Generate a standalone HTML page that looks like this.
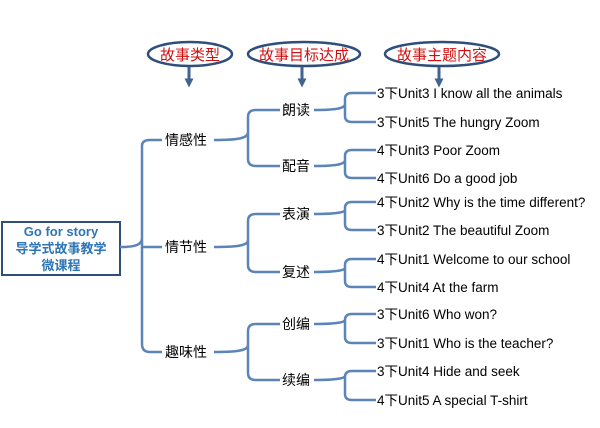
<!DOCTYPE html>
<html><head><meta charset="utf-8"><style>
body{margin:0;background:#fff;width:600px;height:423px;overflow:hidden}
text{font-family:"Liberation Sans","Noto Sans CJK SC",sans-serif}
</style></head><body>
<svg width="600" height="423" viewBox="0 0 600 423" xmlns="http://www.w3.org/2000/svg">
<defs><marker id="a" markerWidth="3" markerHeight="3" refX="1.5" refY="1.5" orient="auto"><path d="M0,0L3,1.5L0,3z" fill="#41638f"/></marker></defs>
<g fill="none" stroke="#2f4f7a" stroke-width="2.5">
<ellipse cx="190" cy="54" rx="42" ry="12"/>
<ellipse cx="304" cy="54" rx="56" ry="12"/>
<ellipse cx="442" cy="54" rx="57" ry="12"/>
</g>
<g stroke="#41638f" stroke-width="3" marker-end="url(#a)">
<line x1="189" y1="67" x2="189" y2="83"/>
<line x1="302" y1="67" x2="302" y2="83"/>
<line x1="439" y1="67" x2="439" y2="83"/>
</g>
<g font-size="15" fill="#d01010" text-anchor="middle">
<text x="190" y="60">故事类型</text><text x="304" y="60">故事目标达成</text><text x="442" y="60">故事主题内容</text>
</g>
<rect x="2" y="222" width="118" height="53" fill="#fff" stroke="#2f4f7a" stroke-width="2"/>
<g font-size="13" font-weight="bold" fill="#2e75b6" text-anchor="middle">
<text x="61" y="236" font-family="Liberation Mono,monospace">Go for story</text>
<text x="61" y="253">导学式故事教学</text><text x="61" y="270">微课程</text>
</g>
<g fill="none" stroke="#5b84b8" stroke-width="2.5">
<path d="M120,247 C135,247 142,245 142,238 L142,146 Q142,140 150,140 L162,140 M142,238 L142,344 Q142,352 150,352 L162,352 M142,247 L162,247"/>
<path d="M214,140 C240,140 248,138 248,132 L248,117 Q248,110 256,110 L280,110 M248,132 L248,159 Q248,166 256,166 L280,166"/>
<path d="M214,247 C240,247 248,245 248,240 L248,221 Q248,214 256,214 L280,214 M248,240 L248,265 Q248,272 256,272 L280,272"/>
<path d="M214,352 C240,352 248,350 248,345 L248,331 Q248,324 256,324 L280,324 M248,345 L248,373 Q248,380 256,380 L280,380"/>
<path d="M314,110 C338,110 345,108 345,104 L345,99 Q345,93 352,93 L376,93 M345,104 L345,116 Q345,122 352,122 L376,122"/>
<path d="M314,166 C338,166 345,164 345,160 L345,156 Q345,150 352,150 L376,150 M345,160 L345,172 Q345,178 352,178 L376,178"/>
<path d="M314,214 C338,214 345,212 345,210 L345,208 Q345,202 352,202 L376,202 M345,210 L345,224 Q345,230 352,230 L376,230"/>
<path d="M314,272 C338,272 345,270 345,268 L345,265 Q345,259 352,259 L376,259 M345,268 L345,281 Q345,287 352,287 L376,287"/>
<path d="M314,324 C338,324 345,322 345,320 L345,320 Q345,314 352,314 L376,314 M345,320 L345,337 Q345,343 352,343 L376,343"/>
<path d="M314,380 C338,380 345,378 345,376 L345,377 Q345,371 352,371 L376,371 M345,376 L345,394 Q345,400 352,400 L376,400"/>
</g>
<g font-size="14" fill="#000">
<text x="165" y="145">情感性</text><text x="165" y="252">情节性</text><text x="165" y="357">趣味性</text>
<text x="282" y="115">朗读</text><text x="282" y="171">配音</text><text x="282" y="219">表演</text>
<text x="282" y="277">复述</text><text x="282" y="329">创编</text><text x="282" y="385">续编</text>
</g>
<g font-size="13.5" fill="#000">
<text x="377" y="98">3下Unit3 I know all the animals</text>
<text x="377" y="127">3下Unit5 The hungry Zoom</text>
<text x="377" y="155">4下Unit3 Poor Zoom</text>
<text x="377" y="183">4下Unit6 Do a good job</text>
<text x="377" y="207">4下Unit2 Why is the time different?</text>
<text x="377" y="235">3下Unit2 The beautiful Zoom</text>
<text x="377" y="264">4下Unit1 Welcome to our school</text>
<text x="377" y="292">4下Unit4 At the farm</text>
<text x="377" y="319">3下Unit6 Who won?</text>
<text x="377" y="348">3下Unit1 Who is the teacher?</text>
<text x="377" y="376">3下Unit4 Hide and seek</text>
<text x="377" y="405">4下Unit5 A special T-shirt</text>
</g>
</svg>
</body></html>
